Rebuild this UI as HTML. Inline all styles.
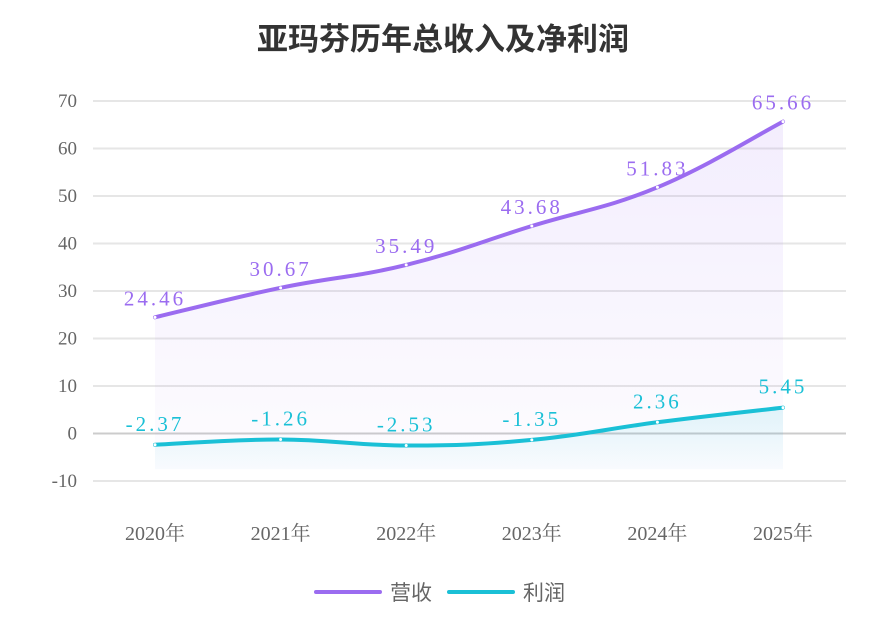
<!DOCTYPE html>
<html><head><meta charset="utf-8"><style>
body{margin:0;background:#fff;}
svg text{font-family:"Liberation Serif","Noto Serif CJK SC",serif;}
</style></head><body>
<svg id="c" width="886" height="636">
<defs>
<linearGradient id="gp" x1="0" y1="0" x2="0" y2="1"><stop offset="0" stop-color="#9b6cf0" stop-opacity="0.12"/><stop offset="1" stop-color="#9b6cf0" stop-opacity="0.02"/></linearGradient>
<linearGradient id="gc" x1="0" y1="0" x2="0" y2="1"><stop offset="0" stop-color="#1ac0d6" stop-opacity="0.12"/><stop offset="1" stop-color="#1ac0d6" stop-opacity="0.02"/></linearGradient>
</defs>
<text x="443" y="50" text-anchor="middle" font-size="31" font-weight="bold" fill="#333" style="font-family:'Noto Sans CJK SC',sans-serif">亚玛芬历年总收入及净利润</text>
<g id="grid"></g><g id="areas"></g><g id="lines"></g><g id="labels"></g>
<g>
<line x1="316" y1="592" x2="380" y2="592" stroke="#9b6cf0" stroke-width="4" stroke-linecap="round"/>
<text x="390" y="600" font-size="21" fill="#666" style="font-family:'Noto Sans CJK SC',sans-serif">营收</text>
<line x1="449" y1="592" x2="513" y2="592" stroke="#1ac0d6" stroke-width="4" stroke-linecap="round"/>
<text x="523" y="600" font-size="21" fill="#666" style="font-family:'Noto Sans CJK SC',sans-serif">利润</text>
</g>
</svg>
<script>
const categories=["2020年","2021年","2022年","2023年","2024年","2025年"];
const revenue=[24.46,30.67,35.49,43.68,51.83,65.66];
const profit=[-2.37,-1.26,-2.53,-1.35,2.36,5.45];
const yTicks=[-10,0,10,20,30,40,50,60,70];
const NS="http://www.w3.org/2000/svg";
const X=i=>155+i*125.6;
const Y=v=>433.5-v*4.75;
function mk(t,a,p){const e=document.createElementNS(NS,t);for(const k in a)e.setAttribute(k,a[k]);document.getElementById(p).appendChild(e);return e;}
yTicks.forEach(v=>{
 const l=mk('line',{x1:93,x2:846,y1:Y(v),y2:Y(v),stroke:v===0?'#ccc':'#e6e6e6','stroke-width':2},'grid');
 
 
 const t=mk('text',{x:77,y:Y(v)+6,'text-anchor':'end','font-size':19,fill:'#666'},'grid');t.textContent=v;
 
 
});
categories.forEach((c,i)=>{const t=mk('text',{x:X(i),y:540,'text-anchor':'middle','font-size':20,fill:'#666'},'grid');t.textContent=c;
 
 });
function path(d){const p=d.map((v,i)=>[X(i),Y(v)]);let s=`M${p[0][0]},${p[0][1]}`;
 for(let i=0;i<p.length-1;i++){const p0=p[i-1]||p[i],p1=p[i],p2=p[i+1],p3=p[i+2]||p2;const k=0.2;
 s+=` C${p1[0]+(p2[0]-p0[0])*k},${p1[1]+(p2[1]-p0[1])*k} ${p2[0]-(p3[0]-p1[0])*k},${p2[1]-(p3[1]-p1[1])*k} ${p2[0]},${p2[1]}`;}return s;}
[[revenue,'#9b6cf0','url(#gp)','revenue',-12],[profit,'#1ac0d6','url(#gc)','profit',-14]].forEach(([d,col,g,n,off])=>{
 const pd=path(d);
 const a=mk('path',{d:pd+` L${X(d.length-1)},${Y(-7.5)} L${X(0)},${Y(-7.5)} Z`,fill:g},'areas');
 
 
 const l=mk('path',{d:pd,fill:'none',stroke:col,'stroke-width':4,'stroke-linecap':'round'},'lines');
 
 
 d.forEach((v,i)=>{const c=mk('circle',{cx:X(i),cy:Y(v),r:1.5,fill:'#fff'},'lines');
  
  
  const t=mk('text',{x:X(i),y:Y(v)+off,'text-anchor':'middle','font-size':21,fill:col,'letter-spacing':'3'},'labels');t.textContent=v.toFixed(2);
  
  });
});
</script>
</body></html>
